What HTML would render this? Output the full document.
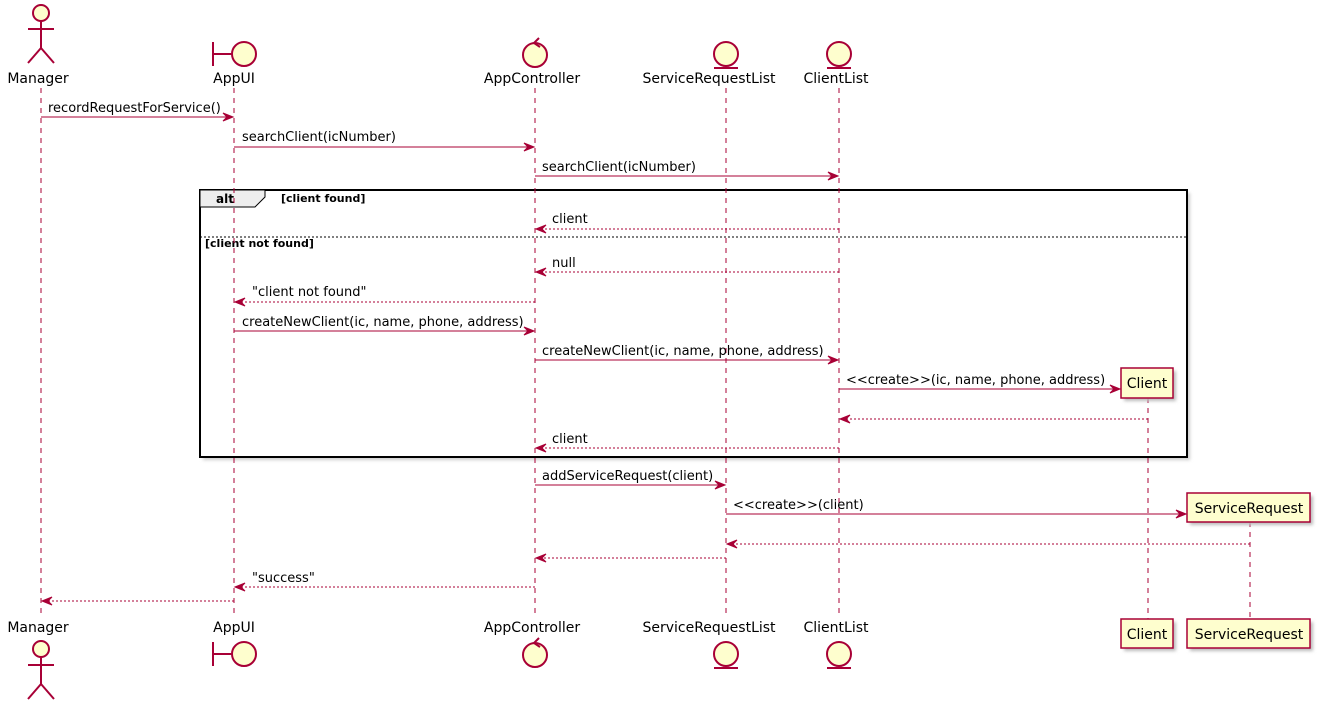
<!DOCTYPE html>
<html><head><meta charset="utf-8"><style>
html,body{margin:0;padding:0;background:#fff;}
svg{display:block;font-family:"DejaVu Sans","Liberation Sans",sans-serif;}
</style></head><body>
<svg width="1320" height="705" viewBox="0 0 1320 705" xmlns="http://www.w3.org/2000/svg">
<defs>
<filter id="sh" x="-20%" y="-20%" width="150%" height="150%"><feGaussianBlur stdDeviation="1.5"/></filter>
</defs>
<!-- alt frame -->
<rect x="203" y="193" width="987" height="267" fill="#ccc" filter="url(#sh)"/>
<rect x="200" y="190" width="987" height="267" fill="#fff" stroke="#000" stroke-width="2"/>
<polygon points="200,190 265,190 265,197 255,207 200,207" fill="#EEEEEE" stroke="#000" stroke-width="1"/>
<text x="216" y="203" font-size="12" font-weight="bold">alt</text>
<text x="281" y="202" font-size="11" font-weight="bold">[client found]</text>
<line x1="200" y1="237" x2="1187" y2="237" stroke="#000" stroke-width="1" stroke-dasharray="2,2"/>
<text x="205" y="247" font-size="11" font-weight="bold">[client not found]</text>

<!-- lifelines -->
<g stroke="#A80036" stroke-width="1" stroke-dasharray="5,5">
<line x1="41" y1="88" x2="41" y2="618"/>
<line x1="234" y1="88" x2="234" y2="618"/>
<line x1="535" y1="88" x2="535" y2="618"/>
<line x1="726" y1="88" x2="726" y2="618"/>
<line x1="839" y1="88" x2="839" y2="618"/>
<line x1="1148" y1="398" x2="1148" y2="619"/>
<line x1="1250" y1="522" x2="1250" y2="619"/>
</g>

<!-- participants top -->
<g stroke="#A80036" stroke-width="2" fill="#FEFECE">
<circle cx="41" cy="13" r="8"/>
<line x1="41" y1="21" x2="41" y2="48"/><line x1="28" y1="29" x2="54" y2="29"/>
<line x1="41" y1="48" x2="28" y2="63"/><line x1="41" y1="48" x2="54" y2="63"/>
<line x1="213" y1="42" x2="213" y2="66"/><line x1="213" y1="54" x2="232" y2="54"/>
<circle cx="244" cy="54" r="12"/>
<circle cx="535" cy="55" r="12"/>
<polyline points="539,38 534,43 540,47" fill="none"/>
<circle cx="726" cy="54" r="12"/><line x1="714" y1="68" x2="738" y2="68"/>
<circle cx="839" cy="54" r="12"/><line x1="827" y1="68" x2="851" y2="68"/>
</g>
<g font-size="14" text-anchor="middle" fill="#000">
<text x="38" y="83">Manager</text>
<text x="234" y="83">AppUI</text>
<text x="532" y="83">AppController</text>
<text x="709" y="83">ServiceRequestList</text>
<text x="836" y="83">ClientList</text>
<text x="38" y="632">Manager</text>
<text x="234" y="632">AppUI</text>
<text x="532" y="632">AppController</text>
<text x="709" y="632">ServiceRequestList</text>
<text x="836" y="632">ClientList</text>
</g>
<g stroke="#A80036" stroke-width="2" fill="#FEFECE">
<circle cx="41" cy="649" r="8"/>
<line x1="41" y1="657" x2="41" y2="684"/><line x1="28" y1="665" x2="54" y2="665"/>
<line x1="41" y1="684" x2="28" y2="699"/><line x1="41" y1="684" x2="54" y2="699"/>
<line x1="213" y1="642" x2="213" y2="666"/><line x1="213" y1="654" x2="232" y2="654"/>
<circle cx="244" cy="654" r="12"/>
<circle cx="535" cy="655" r="12"/>
<polyline points="539,638 534,643 540,647" fill="none"/>
<circle cx="726" cy="654" r="12"/><line x1="714" y1="668" x2="738" y2="668"/>
<circle cx="839" cy="654" r="12"/><line x1="827" y1="668" x2="851" y2="668"/>
</g>

<!-- boxes -->
<g fill="#bbb" filter="url(#sh)">
<rect x="1124" y="371" width="52" height="30"/>
<rect x="1190" y="496" width="123" height="29"/>
<rect x="1124" y="622" width="52" height="29"/>
<rect x="1190" y="622" width="123" height="29"/>
</g>
<g fill="#FEFECE" stroke="#A80036" stroke-width="1.5">
<rect x="1121" y="368" width="52" height="30"/>
<rect x="1187" y="493" width="123" height="29"/>
<rect x="1121" y="619" width="52" height="29"/>
<rect x="1187" y="619" width="123" height="29"/>
</g>
<g font-size="14" text-anchor="middle">
<text x="1147" y="388">Client</text>
<text x="1249" y="513">ServiceRequest</text>
<text x="1147" y="639">Client</text>
<text x="1249" y="639">ServiceRequest</text>
</g>

<!-- messages -->
<g stroke="#A80036" stroke-width="1">
<line x1="41" y1="117" x2="232" y2="117"/>
<line x1="234" y1="147" x2="533" y2="147"/>
<line x1="535" y1="176" x2="837" y2="176"/>
<line x1="839" y1="229" x2="537" y2="229" stroke-dasharray="2,2"/>
<line x1="839" y1="272" x2="537" y2="272" stroke-dasharray="2,2"/>
<line x1="535" y1="302" x2="236" y2="302" stroke-dasharray="2,2"/>
<line x1="234" y1="331" x2="533" y2="331"/>
<line x1="535" y1="360" x2="837" y2="360"/>
<line x1="839" y1="389" x2="1119" y2="389"/>
<line x1="1148" y1="419" x2="841" y2="419" stroke-dasharray="2,2"/>
<line x1="839" y1="448" x2="537" y2="448" stroke-dasharray="2,2"/>
<line x1="535" y1="485" x2="724" y2="485"/>
<line x1="726" y1="514" x2="1185" y2="514"/>
<line x1="1250" y1="544" x2="728" y2="544" stroke-dasharray="2,2"/>
<line x1="726" y1="558" x2="537" y2="558" stroke-dasharray="2,2"/>
<line x1="535" y1="587" x2="236" y2="587" stroke-dasharray="2,2"/>
<line x1="234" y1="601" x2="43" y2="601" stroke-dasharray="2,2"/>
</g>
<g fill="#A80036" stroke="#A80036" stroke-width="1">
<polygon points="233,117 223,113 227,117 223,121"/>
<polygon points="534,147 524,143 528,147 524,151"/>
<polygon points="838,176 828,172 832,176 828,180"/>
<polygon points="536,229 546,225 542,229 546,233"/>
<polygon points="536,272 546,268 542,272 546,276"/>
<polygon points="235,302 245,298 241,302 245,306"/>
<polygon points="534,331 524,327 528,331 524,335"/>
<polygon points="838,360 828,356 832,360 828,364"/>
<polygon points="1120,389 1110,385 1114,389 1110,393"/>
<polygon points="840,419 850,415 846,419 850,423"/>
<polygon points="536,448 546,444 542,448 546,452"/>
<polygon points="725,485 715,481 719,485 715,489"/>
<polygon points="1186,514 1176,510 1180,514 1176,518"/>
<polygon points="727,544 737,540 733,544 737,548"/>
<polygon points="536,558 546,554 542,558 546,562"/>
<polygon points="235,587 245,583 241,587 245,591"/>
<polygon points="42,601 52,597 48,601 52,605"/>
</g>
<g font-size="13" fill="#000">
<text x="48" y="112">recordRequestForService()</text>
<text x="242" y="141">searchClient(icNumber)</text>
<text x="542" y="171">searchClient(icNumber)</text>
<text x="552" y="223">client</text>
<text x="552" y="267">null</text>
<text x="252" y="296">"client not found"</text>
<text x="242" y="326">createNewClient(ic, name, phone, address)</text>
<text x="542" y="355">createNewClient(ic, name, phone, address)</text>
<text x="846" y="384">&lt;&lt;create&gt;&gt;(ic, name, phone, address)</text>
<text x="552" y="443">client</text>
<text x="542" y="480">addServiceRequest(client)</text>
<text x="733" y="509">&lt;&lt;create&gt;&gt;(client)</text>
<text x="252" y="582">"success"</text>
</g>
</svg>
</body></html>
